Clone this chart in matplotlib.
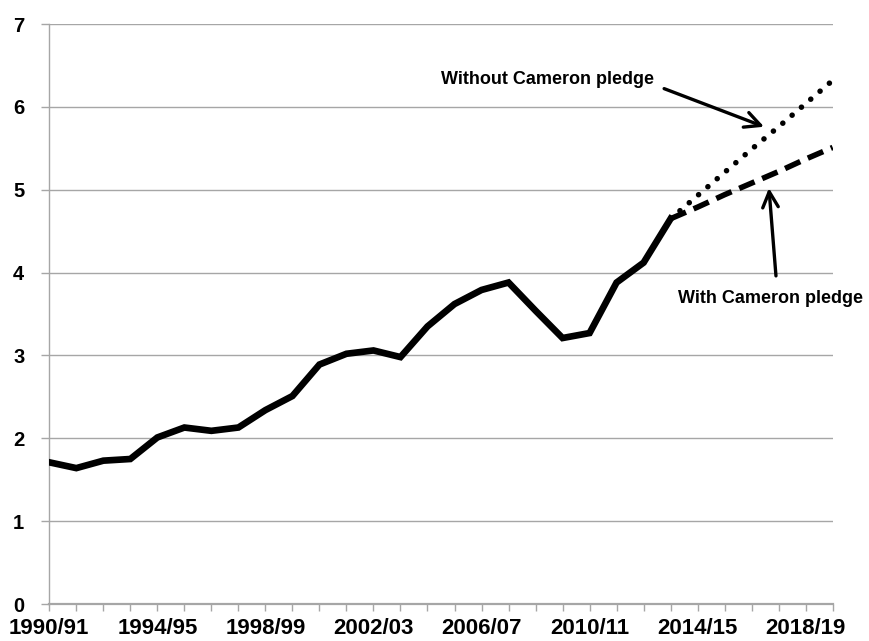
import matplotlib
matplotlib.use("Agg")
import matplotlib.pyplot as plt

plt.rcParams['font.family'] = ['Liberation Sans', 'DejaVu Sans']
plt.rcParams['font.weight'] = 'bold'

# financial years on the category axis
seasons = ['1990/91', '1991/92', '1992/93', '1993/94', '1994/95', '1995/96',
           '1996/97', '1997/98', '1998/99', '1999/00', '2000/01', '2001/02',
           '2002/03', '2003/04', '2004/05', '2005/06', '2006/07', '2007/08',
           '2008/09', '2009/10', '2010/11', '2011/12', '2012/13', '2013/14',
           '2014/15', '2015/16', '2016/17', '2017/18', '2018/19', '2019/20']

# outturn up to 2013/14
actual = [1.71, 1.64, 1.73, 1.75, 2.01, 2.13, 2.09, 2.13, 2.34, 2.51,
          2.89, 3.02, 3.06, 2.98, 3.35, 3.62, 3.79, 3.88, 3.54, 3.21,
          3.27, 3.88, 4.12, 4.65]

# projections from 2013/14 onwards
with_pledge = [4.65, 4.79, 4.94, 5.08, 5.22, 5.37, 5.51]
without_pledge = [4.65, 4.93, 5.21, 5.49, 5.76, 6.04, 6.32]

label_every = 4

fig = plt.figure(figsize=(8.69, 6.41), dpi=100)
ax = fig.add_axes([49.3 / 869, 1 - 604 / 641, (832.7 - 49.3) / 869, 580 / 641])

x_act = list(range(len(actual)))
start = len(actual) - 1
x_proj = list(range(start, start + len(with_pledge)))

ax.plot(x_proj, without_pledge, color='black', lw=4.0,
        linestyle=(0, (0.01, 2.2)), dash_capstyle='round', zorder=3)
ax.plot(x_proj, with_pledge, color='black', lw=4.0,
        linestyle=(0, (3.0, 1.5)), dash_capstyle='butt', zorder=3)
ax.plot(x_act, actual, color='black', lw=4.8, solid_joinstyle='miter', zorder=4)

ax.set_xlim(0, len(seasons) - 1)
ax.set_ylim(0, 7)
ax.set_yticks(range(0, 8))
ax.yaxis.grid(True, color='#a6a6a6', lw=1)
ax.set_axisbelow(True)

ax.set_xticks(range(len(seasons)))
ax.set_xticklabels([s if i % label_every == 0 else '' for i, s in enumerate(seasons)])
ax.tick_params(axis='x', length=5, width=1, color='#a6a6a6', labelsize=16, pad=5)
ax.tick_params(axis='y', length=6, width=1, color='#a6a6a6', labelsize=14.5, pad=12)

for side in ['top', 'right']:
    ax.spines[side].set_visible(False)
for side in ['left', 'bottom']:
    ax.spines[side].set_color('#a6a6a6')
ax.spines['left'].set_linewidth(1)
ax.spines['bottom'].set_linewidth(1.6)

arrow = dict(arrowstyle='->', lw=2.4, color='black',
             mutation_scale=28, shrinkA=0, shrinkB=0)

ax.text(22.4, 6.33, 'Without Cameron pledge', ha='right', va='center',
        fontsize=13, fontweight='bold')
ax.annotate('', xy=(26.46, 5.76), xytext=(22.76, 6.22), arrowprops=arrow)

ax.text(23.28, 3.69, 'With Cameron pledge', ha='left', va='center',
        fontsize=13, fontweight='bold', clip_on=False)
ax.annotate('', xy=(26.64, 5.02), xytext=(26.9, 3.96), arrowprops=arrow)

fig.savefig('out.png', dpi=100)
